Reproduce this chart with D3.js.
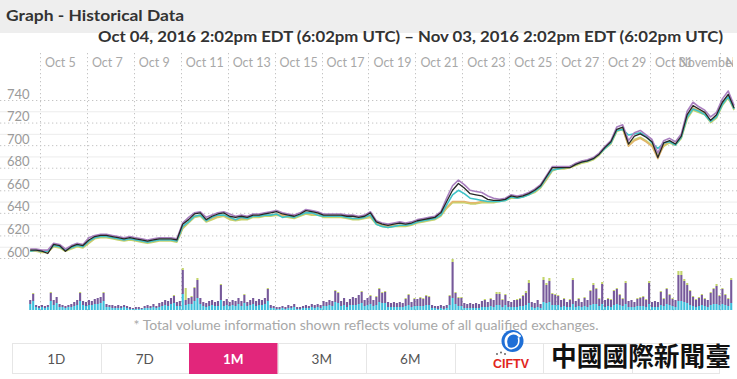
<!DOCTYPE html>
<html><head><meta charset="utf-8">
<script src="https://cdn.jsdelivr.net/npm/d3@7"></script>
<style>
html,body{margin:0;padding:0;background:#fff;overflow:hidden;}
svg{display:block;font-family:Lato,"Open Sans",sans-serif;}
</style></head><body>
<svg id="c" width="737" height="379"></svg>
<script>
// ---------- DATA ----------
const titleText = "Graph - Historical Data";
const rangeText = "Oct 04, 2016 2:02pm EDT (6:02pm UTC) \u2013 Nov 03, 2016 2:02pm EDT (6:02pm UTC)";
const footnote = "* Total volume information shown reflects volume of all qualified exchanges.";
const domainStart = "2016-10-04T14:00:00Z";
const domainEnd = "2016-11-03T14:00:00Z";
const priceStepHours = 6;
const volStepHours = 3;

const priceBlack = [607,607,606,604,612,611,606,610,612,611,
616,619,620,620,619,618,617,618,617,616,
615,616,617,617,617,616,630,634,639,640,
634,637,639,640,637,636,637,636,638,638,
639,640,641,639,638,637,639,642,641,640,
638,638,638,638,637,637,636,637,640,632,
630,629,630,631,630,631,633,634,635,636,
640,650,660,666,662,657,656,655,652,651,
651,652,655,654,655,657,660,664,672,680,
680,680,680,683,685,686,688,692,698,703,
714,716,701,708,710,707,703,689,702,704,
701,708,727,735,732,729,722,727,738,745,
733];
const pricePurple = [608,608,607,607,613,612,608,611,613,612,
618,620,621,621,620,619,618,619,618,617,
616,617,618,618,618,617,631,636,640,641,
636,638,640,641,639,637,638,637,639,639,
640,641,642,640,639,638,640,643,642,641,
639,639,639,639,638,638,637,638,641,633,
631,630,631,632,631,632,634,635,636,637,
641,653,664,669,665,660,659,658,655,653,
652,653,656,655,656,658,661,665,673,681,
681,681,681,684,686,687,689,693,699,704,
716,718,704,711,713,709,705,693,704,706,
703,710,730,738,734,731,725,729,741,748,
735];
const priceTeal = [606,607,606,606,611,610,607,609,611,610,
615,618,619,619,618,617,616,617,616,615,
614,615,616,616,616,615,628,632,637,638,
633,636,638,638,636,634,636,635,637,637,
638,638,639,636,637,636,638,640,640,638,
637,637,637,637,636,635,635,636,638,630,
628,627,628,629,629,630,632,633,634,635,
638,647,656,660,657,653,652,651,650,650,
650,651,654,653,654,656,659,663,671,678,
679,680,681,683,685,686,688,692,697,702,
713,714,709,710,711,708,702,697,702,703,
700,707,725,732,730,727,721,725,736,743,
732];
const priceLime = [606,606,605,605,610,609,606,608,610,609,
613,617,618,618,617,616,615,616,615,614,
613,614,615,615,615,614,626,631,636,637,
632,634,636,637,634,633,634,634,636,636,
637,637,638,637,636,635,637,639,638,638,
636,636,636,636,635,634,634,635,636,630,
628,627,628,628,628,629,631,632,633,634,
637,644,649,649,649,648,648,649,649,649,
650,651,653,653,654,656,658,662,669,677,
679,679,680,682,684,685,687,691,697,701,
712,714,700,705,707,704,700,691,699,702,
700,706,723,731,729,727,720,724,735,742,
731];
const priceTan = [607,606,606,605,611,610,607,609,611,610,
614,618,619,619,618,617,616,617,616,615,
614,615,616,616,616,615,627,632,637,638,
633,635,637,638,635,634,635,635,637,637,
638,638,639,638,637,636,638,640,639,639,
637,637,637,637,636,635,635,636,637,631,
629,628,629,629,629,630,632,633,634,635,
638,645,650,650,650,649,649,650,650,650,
651,652,654,654,655,657,659,663,670,678,
680,680,681,683,685,686,688,692,698,702,
713,715,699,704,706,703,699,688,700,703,
701,707,725,733,731,728,721,726,737,744,
732];

const volCyan = [6,9,3,2,3,2,3,9,5,7,3,3,2,3,3,4,5,9,5,4,5,5,6,6,7,9,3,3,2,2,
2,2,3,2,1,1,1,1,1,2,2,2,3,2,3,4,5,4,6,7,4,4,16,5,6,6,9,12,6,4,
3,4,5,4,4,10,4,5,4,5,4,6,4,7,4,5,6,4,5,5,6,9,2,2,1,1,2,1,2,2,
3,1,1,2,2,2,3,2,3,2,4,4,5,4,8,7,4,5,3,5,5,5,6,7,4,5,6,4,5,8,
7,7,3,3,3,3,3,3,4,5,3,4,4,4,4,5,5,2,2,1,2,1,2,5,12,6,4,4,2,2,
2,2,2,2,3,3,3,4,3,5,5,3,5,3,3,3,3,4,4,5,7,3,2,3,2,8,7,8,5,5,
5,3,4,3,3,6,3,4,3,4,3,5,6,6,4,6,3,4,3,5,6,5,4,6,3,3,3,4,4,4,
3,6,3,3,3,5,4,6,5,4,3,9,9,8,7,5,4,3,4,5,4,3,5,6,6,5,6,5,4,7];
const volPurple = [4,7,2,2,2,2,2,8,5,6,3,2,2,2,3,4,5,8,4,4,5,4,5,6,6,8,3,2,3,2,
3,2,2,2,2,1,2,2,1,2,3,2,3,2,4,4,5,5,6,7,4,5,24,5,6,7,13,18,6,4,
4,5,5,4,5,15,5,6,4,5,5,6,5,8,4,5,6,5,6,5,6,12,3,2,2,2,2,2,3,2,
3,2,2,2,3,2,3,3,3,3,5,4,5,5,11,10,5,7,5,6,8,7,9,11,6,7,8,6,8,13,
10,11,5,4,5,4,5,4,7,10,5,7,7,8,7,9,8,3,2,3,3,3,3,9,36,11,8,8,5,4,
5,4,5,4,6,7,5,7,7,11,11,7,10,6,5,7,7,7,10,12,20,5,5,7,4,22,18,21,11,10,
9,7,7,5,7,24,6,7,5,8,7,14,19,15,7,20,7,7,7,14,15,10,7,21,6,7,5,7,8,9,
7,21,5,6,5,13,7,15,10,7,7,26,26,21,18,14,9,7,8,10,7,7,12,15,18,9,15,10,7,23];
const volLime = [0,1,0,0,0,0,0,1,0,0,0,0,0,0,0,0,0,1,0,0,0,0,0,0,0,1,0,0,0,0,
0,0,0,0,0,0,0,0,0,0,0,0,0,0,0,0,0,0,0,1,0,0,2,12,0,1,1,2,0,0,
0,0,0,0,0,1,0,0,0,0,0,0,0,1,0,0,0,0,0,0,0,1,0,0,0,0,0,0,0,0,
0,0,0,0,0,0,0,0,0,0,0,0,0,0,1,1,0,0,0,0,0,0,0,1,0,0,1,0,1,1,
1,1,0,0,0,0,0,0,1,1,0,1,0,1,1,1,1,0,0,0,0,0,0,1,3,1,1,1,0,0,
0,0,0,0,0,1,0,1,0,2,2,1,1,0,0,0,1,1,1,2,3,0,0,0,0,3,2,3,1,1,
1,0,1,0,1,2,0,1,0,1,0,1,2,1,1,2,0,1,1,1,1,1,1,2,0,0,0,1,1,1,
1,2,0,0,0,1,1,1,1,1,0,4,4,2,2,1,1,1,1,1,1,0,1,1,2,1,1,1,1,2];

const xTickDates = ["2016-10-05","2016-10-07","2016-10-09","2016-10-11","2016-10-13","2016-10-15","2016-10-17","2016-10-19","2016-10-21","2016-10-23","2016-10-25","2016-10-27","2016-10-29","2016-10-31","2016-11-01","2016-11-03"];
const xTickLabels = ["Oct 5","Oct 7","Oct 9","Oct 11","Oct 13","Oct 15","Oct 17","Oct 19","Oct 21","Oct 23","Oct 25","Oct 27","Oct 29","Oct 31","November","Nov 3"];
const yTicks = [600,620,640,660,680,700,720,740];
const yMinorTicks = [610,630,650,670,690,710,730];
const rangeButtons = ["1D","7D","1M","3M","6M","","",""];
const activeButton = "1M";
const logoName = "中國國際新聞臺";
const logoAbbr = "CIFTV";

// ---------- DRAW ----------
const svg = d3.select("#c");
const W = 737;
const t0 = new Date(domainStart), t1 = new Date(domainEnd);
const x = d3.scaleUtc().domain([t0, t1]).range([30.2, 734.1]);
const y = d3.scaleLinear().domain([600, 740]).range([258, 100]);
const yv = d3.scaleLinear().domain([0, 52]).range([310, 258]);
const hour = 3600000;

// header band
svg.append("rect").attr("x",0).attr("y",0).attr("width",W).attr("height",33).attr("fill","#eeeeee");
svg.append("text").attr("x",6).attr("y",20.5).text(titleText)
  .attr("font-size",15).attr("font-weight",700).attr("fill","#333")
  .attr("textLength",178).attr("lengthAdjust","spacingAndGlyphs");
svg.append("text").attr("x",98).attr("y",41.5).text(rangeText)
  .attr("font-size",15).attr("font-weight",700).attr("fill","#333")
  .attr("textLength",625).attr("lengthAdjust","spacingAndGlyphs");

// horizontal gridlines
const grid = svg.append("g");
grid.selectAll("line.minor").data(yMinorTicks).join("line").attr("class","minor")
  .attr("x1",0).attr("x2",W).attr("y1",d=>y(d)+0.5).attr("y2",d=>y(d)+0.5)
  .attr("stroke","#ececec").attr("stroke-width",1);
grid.selectAll("line.major").data(yTicks).join("line").attr("class","major")
  .attr("x1",0).attr("x2",W).attr("y1",d=>y(d)+0.5).attr("y2",d=>y(d)+0.5)
  .attr("stroke","#c4c4c4").attr("stroke-width",1).attr("stroke-dasharray","1.3,2.7");

// vertical dotted gridlines + x tick labels (clipped at chart edge like the reference)
const clip = svg.append("clipPath").attr("id","xc");
clip.append("rect").attr("x",0).attr("y",40).attr("width",733).attr("height",300);
const xt = svg.append("g").attr("clip-path","url(#xc)");
const tickDates = xTickDates.map(s => new Date(s + "T00:00:00Z"));
xt.selectAll("line").data(tickDates).join("line")
  .attr("x1",d=>Math.round(x(d))+0.5).attr("x2",d=>Math.round(x(d))+0.5)
  .attr("y1",53).attr("y2",311)
  .attr("stroke","#c4c4c4").attr("stroke-width",1).attr("stroke-dasharray","1.3,2.7");
xt.selectAll("text").data(tickDates).join("text")
  .attr("x",d=>x(d)+5).attr("y",66.5).text((d,i)=>xTickLabels[i])
  .attr("font-size",12.5).attr("fill","#a8a8a8");

// y labels
svg.append("g").selectAll("text").data(yTicks).join("text")
  .attr("x",7).attr("y",d=>y(d)-1.5).text(d=>d)
  .attr("font-size",13).attr("fill","#9a9a9a");

// volume bars (stacked)
const volTimes = volCyan.map((_,j)=> new Date(t0.getTime() + j*volStepHours*hour));
const stackLayers = [
  {vals: volCyan, color:"#3dbfdc"},
  {vals: volPurple, color:"#76599a"},
  {vals: volLime, color:"#c3d56b"}
];
const vg = svg.append("g");
const base = new Array(volCyan.length).fill(0);
stackLayers.forEach(layer=>{
  const b0 = base.slice();
  vg.append("g").selectAll("rect").data(layer.vals).join("rect")
    .attr("x",(d,j)=>x(volTimes[j])-1)
    .attr("width",2.1)
    .attr("y",(d,j)=>yv(b0[j]+d))
    .attr("height",(d,j)=>yv(b0[j])-yv(b0[j]+d))
    .attr("fill",layer.color);
  layer.vals.forEach((v,j)=>base[j]+=v);
});

// price lines
const series = [
  {vals: priceLime, color:"#c6d46c", w:1.6},
  {vals: priceTan, color:"#e2b56c", w:1.6},
  {vals: priceTeal, color:"#3ec3c8", w:1.6},
  {vals: pricePurple, color:"#a97fbf", w:1.6},
  {vals: priceBlack, color:"#262626", w:1.3}
];
const line = d3.line()
  .x((d,i)=>x(new Date(t0.getTime() + i*priceStepHours*hour)))
  .y(d=>y(d));
svg.append("g").selectAll("path").data(series).join("path")
  .attr("d",d=>line(d.vals)).attr("fill","none")
  .attr("stroke",d=>d.color).attr("stroke-width",d=>d.w).attr("stroke-linejoin","round");

// footnote
svg.append("text").attr("x",366).attr("y",329.5).attr("text-anchor","middle").text(footnote)
  .attr("font-size",12.5).attr("fill","#a8a8a8")
  .attr("textLength",465).attr("lengthAdjust","spacingAndGlyphs");

// range buttons
const bx = d3.scaleBand().domain(d3.range(rangeButtons.length)).range([12, 720]);
const bg = svg.append("g");
bg.append("rect").attr("x",12.5).attr("y",343.5).attr("width",707).attr("height",30)
  .attr("fill","#fff").attr("stroke","#e6e6e6");
bg.selectAll("line").data(d3.range(1, rangeButtons.length)).join("line")
  .attr("x1",d=>Math.round(bx(d))+0.5).attr("x2",d=>Math.round(bx(d))+0.5)
  .attr("y1",344).attr("y2",373).attr("stroke","#e6e6e6");
bg.selectAll("rect.act").data(rangeButtons.filter(b=>b===activeButton)).join("rect").attr("class","act")
  .attr("x",d=>bx(rangeButtons.indexOf(d))).attr("y",343).attr("width",bx.bandwidth()).attr("height",31)
  .attr("fill","#e2267b");
bg.selectAll("text").data(rangeButtons).join("text")
  .attr("x",(d,i)=>bx(i)+bx.bandwidth()/2).attr("y",363.5).attr("text-anchor","middle")
  .text(d=>d).attr("font-size",13.5)
  .attr("fill",d=>d===activeButton?"#fff":"#555")
  .attr("font-weight",d=>d===activeButton?700:400);

// logo overlay
const lg = svg.append("g");
const cx = 512.5, cy = 341;
lg.append("circle").attr("cx",cx).attr("cy",cy).attr("r",11).attr("fill","#1f6fd6");
lg.append("path").attr("d",`M${cx-6},${cy+4} C${cx-9},${cy-6} ${cx+1},${cy-11} ${cx+7},${cy-5}`)
  .attr("fill","none").attr("stroke","#fff").attr("stroke-width",2.6).attr("stroke-linecap","round");
lg.append("path").attr("d",`M${cx+6},${cy-3} C${cx+8},${cy+7} ${cx-2},${cy+10} ${cx-6},${cy+5}`)
  .attr("fill","none").attr("stroke","#fff").attr("stroke-width",1.6).attr("stroke-linecap","round");
lg.selectAll("circle.dot").data([[497,354],[501,352.5],[505,354]]).join("circle").attr("class","dot")
  .attr("cx",d=>d[0]).attr("cy",d=>d[1]).attr("r",0.9).attr("fill","#555");
lg.append("text").attr("x",493).attr("y",368).text(logoAbbr)
  .attr("font-size",13).attr("font-weight",700).attr("fill","#e1261c")
  .attr("font-family","Liberation Sans, Arial, sans-serif")
  .attr("textLength",36).attr("lengthAdjust","spacingAndGlyphs");
lg.append("text").attr("x",551).attr("y",365.5).text(logoName)
  .attr("font-size",26).attr("font-weight",700).attr("fill","#111")
  .attr("font-family","Noto Sans CJK TC, Noto Sans CJK SC, sans-serif")
  .attr("textLength",180).attr("lengthAdjust","spacingAndGlyphs");
</script>
</body></html>
